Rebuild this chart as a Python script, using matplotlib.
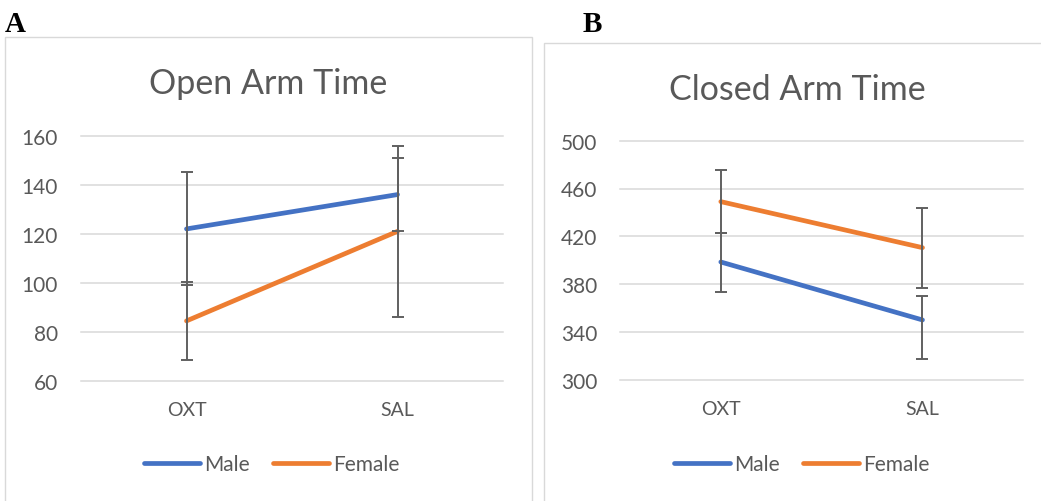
import matplotlib
matplotlib.use("Agg")
import matplotlib.pyplot as plt
from matplotlib.patches import Rectangle

# ---------------- data ----------------
categories = ["OXT", "SAL"]
series_names = ["Male", "Female"]

open_male = [122, 136]
open_female = [84.5, 121]
open_male_err_lo = [23, 15]
open_male_err_hi = [23, 15]
open_female_err_lo = [16, 35]
open_female_err_hi = [16, 35]
open_ticks = [60, 80, 100, 120, 140, 160]

closed_male = [398.5, 350]
closed_female = [449, 410.5]
closed_male_err_lo = [25, 33]
closed_male_err_hi = [24, 20]
closed_female_err_lo = [26, 33.5]
closed_female_err_hi = [26.5, 33.5]
closed_ticks = [300, 340, 380, 420, 460, 500]

titles = ["Open Arm Time", "Closed Arm Time"]
panel_labels = ["A", "B"]

# ---------------- style ----------------
W, H = 1041, 502
DPI = 100
BLUE = "#4472C4"
ORANGE = "#ED7D31"
GRID = "#D9D9D9"
TXT = "#595959"
ERR = "#606060"
FONT = "Lato"

fig = plt.figure(figsize=(W / DPI, H / DPI), dpi=DPI)
fig.patch.set_facecolor("white")


def fx(px):
    return px / W


def fy(py):
    return 1 - py / H


# panel frames
fig.patches.append(Rectangle((fx(5), fy(520)), fx(532) - fx(5), fy(37.5) - fy(520),
                             transform=fig.transFigure, fill=False, edgecolor=GRID, lw=1.0))
fig.patches.append(Rectangle((fx(543.5), fy(520)), fx(1060) - fx(543.5), fy(43.5) - fy(520),
                             transform=fig.transFigure, fill=False, edgecolor=GRID, lw=1.0))

panels = [
    dict(box=(81, 503, 136.7, 382), ticks=open_ticks, title_xy=(268, 93.5),
         male=open_male, female=open_female,
         merr=(open_male_err_lo, open_male_err_hi), ferr=(open_female_err_lo, open_female_err_hi),
         leg=(271.5, 465), lab=(5, 32)),
    dict(box=(620, 1023.3, 141.7, 380.7), ticks=closed_ticks, title_xy=(797, 99.5),
         male=closed_male, female=closed_female,
         merr=(closed_male_err_lo, closed_male_err_hi), ferr=(closed_female_err_lo, closed_female_err_hi),
         leg=(801.5, 465), lab=(583, 32)),
]

for i, p in enumerate(panels):
    l, r, t, b = p["box"]
    ax = fig.add_axes([fx(l), fy(b), fx(r) - fx(l), fy(t) - fy(b)])
    ax.set_facecolor("none")
    for s in ax.spines.values():
        s.set_visible(False)
    x = list(range(len(categories)))
    ax.set_xlim(-0.5, len(categories) - 0.5)
    ax.set_ylim(p["ticks"][0], p["ticks"][-1])
    for tv in p["ticks"]:
        ax.axhline(tv, color=GRID, lw=1.1, zorder=0, clip_on=False)
    lm, = ax.plot(x, p["male"], color=BLUE, lw=3.4, solid_capstyle="round", zorder=2, clip_on=False)
    lf, = ax.plot(x, p["female"], color=ORANGE, lw=3.4, solid_capstyle="round", zorder=2, clip_on=False)
    for vals, err in ((p["male"], p["merr"]), (p["female"], p["ferr"])):
        ax.errorbar(x, vals, yerr=[err[0], err[1]], fmt="none", ecolor=ERR,
                    elinewidth=1.4, capsize=4, capthick=1.4, zorder=3, clip_on=False)
    ax.set_yticks(p["ticks"])
    ax.set_yticklabels([str(v) for v in p["ticks"]], fontsize=15, color=TXT, family=FONT)
    ax.set_xticks(x)
    ax.set_xticklabels(categories, fontsize=14, color=TXT, family=FONT)
    ax.tick_params(axis="y", length=0, pad=16.5)
    ax.tick_params(axis="x", length=0, pad=14.5)

    fig.text(fx(p["title_xy"][0]), fy(p["title_xy"][1]), titles[i], ha="center", va="baseline",
             fontsize=24.5, color=TXT, family=FONT)
    fig.text(fx(p["lab"][0]), fy(p["lab"][1]), panel_labels[i], ha="left", va="baseline",
             fontsize=21, fontweight="bold", color="black", family="Liberation Serif")

    fig.legend([lm, lf], series_names, loc="center",
               bbox_to_anchor=(fx(p["leg"][0]), fy(p["leg"][1])), ncol=2, frameon=False,
               handlelength=2.7, handletextpad=0.2, columnspacing=1.1,
               prop=dict(family=FONT, size=15), labelcolor=TXT)

fig.savefig("out.png", dpi=DPI, facecolor="white")
